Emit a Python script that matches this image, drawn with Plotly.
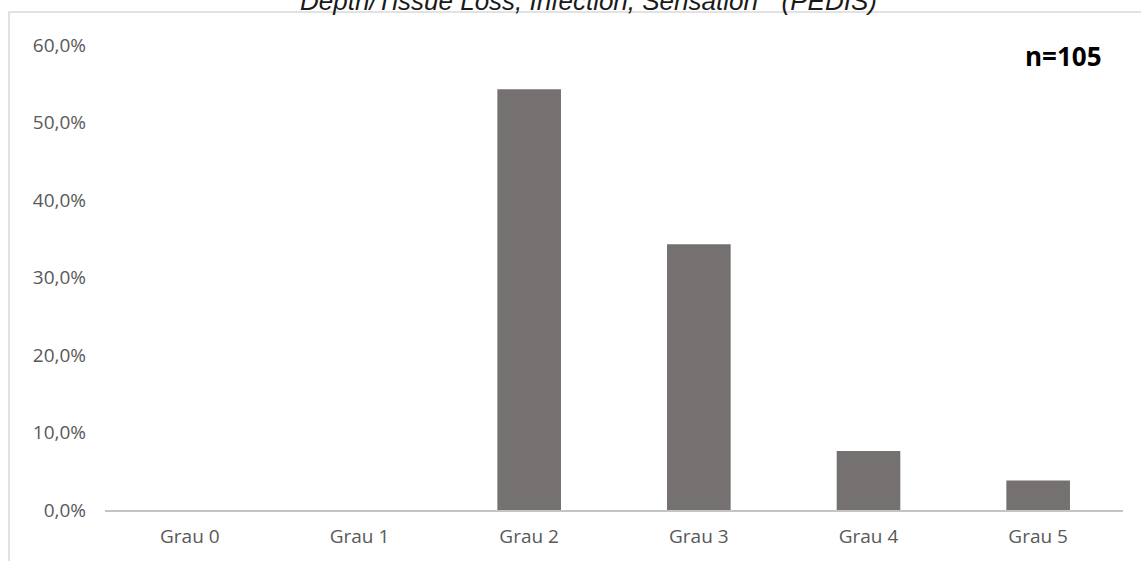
import plotly.graph_objects as go

# PEDIS grade distribution (share of patients)
categories = ["Grau 0", "Grau 1", "Grau 2", "Grau 3", "Grau 4", "Grau 5"]
shares = [0.0, 0.0, 54.3, 34.3, 7.6, 3.8]
y_ticks = [0, 10, 20, 30, 40, 50, 60]
y_tick_labels = ["0,0%", "10,0%", "20,0%", "30,0%", "40,0%", "50,0%", "60,0%"]
title_text = 'Depth/Tissue Loss, Infection, Sensation"  (PEDIS)'
sample_label = "n=105"

W, H = 1141, 561
ML, MR, MT, MB = 105, 18, 45, 51
plot_w = W - ML - MR
plot_h = H - MT - MB


def px_x(x):
    return (x - ML) / plot_w


def px_y(y):
    return (H - MB - y) / plot_h


fig = go.Figure(
    go.Bar(
        x=categories,
        y=shares,
        marker=dict(color="#767171", line=dict(width=0)),
        width=0.375,
        hoverinfo="x+y",
    )
)

fig.update_layout(
    width=W,
    height=H,
    margin=dict(l=ML, r=MR, t=MT, b=MB),
    paper_bgcolor="white",
    plot_bgcolor="white",
    showlegend=False,
    bargap=0.625,
    font=dict(family="Open Sans, sans-serif", color="#595959"),
    xaxis=dict(
        showgrid=False,
        showline=True,
        linecolor="#c4c4c4",
        linewidth=2,
        ticks="",
        tickfont=dict(size=19, color="#595959"),
        ticklabelstandoff=8,
        fixedrange=True,
    ),
    yaxis=dict(
        range=[0, 60],
        tickvals=y_ticks,
        ticktext=y_tick_labels,
        showgrid=False,
        zeroline=False,
        showline=False,
        ticks="",
        tickfont=dict(size=19, color="#595959"),
        ticklabelstandoff=18,
        fixedrange=True,
    ),
    shapes=[
        # outer chart frame (left and top edges)
        dict(
            type="path",
            xref="paper",
            yref="paper",
            path=f"M {px_x(9)} {px_y(H + 20)} L {px_x(9)} {px_y(12)} L {px_x(W + 20)} {px_y(12)}",
            line=dict(color="#d9d9d9", width=1.5),
            layer="below",
        )
    ],
    annotations=[
        dict(
            text=title_text,
            xref="paper",
            yref="paper",
            x=px_x(588),
            y=px_y(18),
            xanchor="center",
            yanchor="bottom",
            showarrow=False,
            font=dict(family="Liberation Sans, Arial, sans-serif", size=26, color="#1a1a1a", style="italic"),
        ),
        dict(
            text="<b>" + sample_label + "</b>",
            xref="paper",
            yref="paper",
            x=px_x(1104),
            y=px_y(56),
            xanchor="right",
            yanchor="middle",
            showarrow=False,
            font=dict(family="Open Sans, sans-serif", size=26, color="#000000"),
        ),
    ],
)

fig.write_html("out.html")
